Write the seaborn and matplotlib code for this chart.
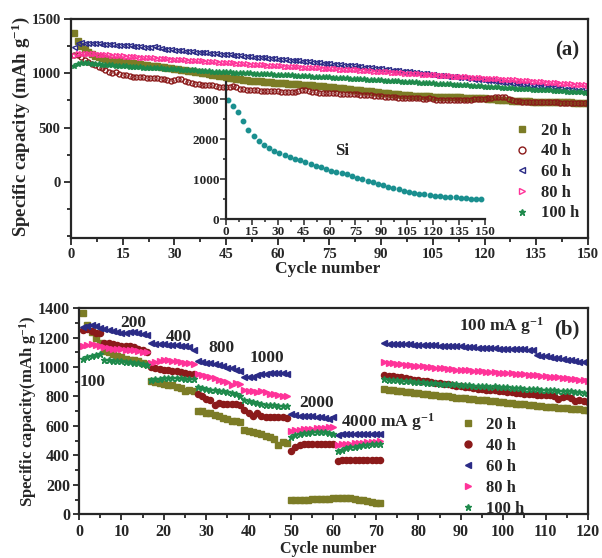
import numpy as np
import pandas as pd
import matplotlib
matplotlib.use('Agg')
import matplotlib.pyplot as plt
from matplotlib.lines import Line2D
from matplotlib.ticker import MultipleLocator
import seaborn as sns

# ------------------------ DATA: panel (a) cycling at 100 mA g-1 ------------------------
cycles_a = np.arange(1, 151)

cap_a_20h = [1373, 1300, 1255, 1222, 1197, 1178, 1163, 1151, 1142, 1134,
             1127, 1121, 1115, 1110, 1105, 1100, 1096, 1091, 1087, 1083,
             1079, 1075, 1071, 1067, 1063, 1059, 1055, 1051, 1047, 1043,
             1038, 1034, 1029, 1025, 1020, 1015, 1010, 1004, 999, 993,
             988, 982, 976, 971, 965, 960, 955, 950, 945, 940,
             936, 933, 930, 928, 925, 922, 920, 917, 914, 912,
             910, 907, 905, 903, 900, 898, 895, 893, 891, 888,
             885, 882, 879, 876, 873, 870, 867, 864, 861, 858,
             855, 851, 848, 844, 841, 837, 834, 830, 827, 823,
             820, 816, 813, 809, 806, 802, 799, 796, 793, 790,
             790, 789, 788, 787, 786, 785, 784, 783, 782, 781,
             780, 779, 778, 777, 776, 775, 774, 773, 772, 770,
             768, 765, 762, 759, 756, 753, 750, 748, 746, 744,
             743, 742, 741, 740, 739, 738, 737, 736, 735, 735,
             734, 733, 733, 732, 732, 731, 731, 730, 730, 730]

cap_a_40h = [1165, 1170, 1150, 1125, 1105, 1090, 1075, 1062, 1045, 1030,
             1015, 1005, 1010, 995, 985, 980, 975, 970, 967, 964,
             962, 960, 958, 956, 953, 950, 945, 938, 932, 935,
             945, 948, 930, 918, 910, 905, 900, 897, 895, 892,
             888, 882, 875, 872, 875, 878, 880, 870, 860, 852,
             848, 845, 843, 842, 841, 840, 840, 838, 836, 834,
             832, 830, 828, 826, 828, 835, 842, 845, 840, 830,
             825, 822, 820, 818, 817, 816, 815, 814, 813, 812,
             810, 808, 806, 804, 802, 800, 798, 795, 792, 789,
             786, 783, 780, 778, 776, 774, 772, 771, 770, 770,
             769, 768, 767, 770, 766, 758, 756, 755, 754, 754,
             755, 756, 757, 758, 758, 759, 760, 762, 764, 768,
             772, 777, 782, 785, 784, 780, 765, 750, 745, 741,
             740, 739, 738, 737, 736, 735, 735, 734, 733, 733,
             732, 731, 731, 730, 730, 729, 728, 727, 727, 726]

cap_a_60h = [1245, 1282, 1285, 1283, 1281, 1279, 1277, 1275, 1273, 1270,
             1268, 1266, 1264, 1262, 1260, 1258, 1256, 1253, 1250, 1247,
             1245, 1242, 1240, 1250, 1238, 1232, 1228, 1224, 1220, 1216,
             1213, 1210, 1207, 1205, 1202, 1199, 1197, 1195, 1192, 1190,
             1187, 1184, 1182, 1179, 1176, 1174, 1171, 1168, 1165, 1162,
             1160, 1157, 1154, 1152, 1149, 1146, 1143, 1141, 1138, 1135,
             1132, 1130, 1127, 1124, 1122, 1119, 1116, 1113, 1111, 1108,
             1105, 1102, 1099, 1096, 1093, 1090, 1087, 1084, 1081, 1078,
             1075, 1072, 1068, 1065, 1062, 1058, 1055, 1052, 1048, 1045,
             1041, 1038, 1034, 1031, 1027, 1024, 1020, 1017, 1013, 1010,
             1006, 1003, 999, 996, 992, 989, 985, 982, 978, 975,
             972, 968, 965, 962, 958, 955, 952, 948, 945, 942,
             938, 934, 931, 927, 923, 920, 916, 912, 909, 905,
             901, 898, 894, 891, 887, 884, 880, 877, 873, 870,
             867, 863, 860, 857, 854, 851, 848, 845, 841, 838]

cap_a_80h = [1160, 1175, 1182, 1180, 1178, 1176, 1174, 1172, 1170, 1168,
             1166, 1163, 1161, 1159, 1156, 1154, 1152, 1150, 1147, 1145,
             1143, 1141, 1139, 1137, 1135, 1133, 1131, 1129, 1127, 1125,
             1123, 1121, 1119, 1117, 1115, 1113, 1111, 1109, 1107, 1105,
             1103, 1101, 1099, 1097, 1095, 1093, 1091, 1089, 1087, 1085,
             1083, 1081, 1079, 1077, 1075, 1073, 1071, 1069, 1067, 1065,
             1063, 1061, 1060, 1058, 1056, 1055, 1053, 1051, 1050, 1048,
             1046, 1045, 1043, 1042, 1040, 1039, 1037, 1035, 1034, 1032,
             1030, 1028, 1026, 1024, 1022, 1020, 1018, 1016, 1014, 1012,
             1010, 1008, 1006, 1004, 1002, 1000, 998, 996, 994, 992,
             990, 988, 986, 984, 982, 980, 978, 976, 974, 972,
             970, 968, 966, 964, 962, 960, 958, 956, 954, 952,
             950, 948, 946, 944, 942, 940, 938, 936, 934, 932,
             930, 928, 926, 924, 921, 919, 917, 915, 912, 910,
             908, 905, 903, 900, 898, 895, 893, 890, 888, 885]

cap_a_100h = [1070, 1090, 1097, 1095, 1092, 1089, 1086, 1084, 1081, 1078,
              1076, 1074, 1071, 1069, 1067, 1064, 1062, 1060, 1057, 1055,
              1053, 1051, 1050, 1048, 1046, 1045, 1043, 1041, 1040, 1038,
              1036, 1034, 1032, 1030, 1028, 1026, 1024, 1022, 1020, 1018,
              1016, 1015, 1013, 1011, 1010, 1008, 1006, 1005, 1003, 1002,
              1000, 999, 997, 996, 994, 993, 991, 990, 988, 987,
              985, 983, 982, 980, 978, 977, 975, 973, 972, 970,
              968, 967, 965, 963, 962, 960, 958, 957, 955, 953,
              951, 950, 948, 946, 944, 942, 941, 939, 937, 935,
              933, 931, 929, 927, 926, 924, 922, 920, 918, 916,
              914, 912, 911, 909, 907, 905, 903, 902, 900, 898,
              896, 894, 892, 890, 888, 886, 884, 882, 880, 878,
              876, 874, 872, 870, 868, 866, 864, 862, 860, 858,
              856, 854, 852, 850, 849, 847, 845, 843, 842, 840,
              838, 836, 834, 832, 830, 828, 826, 824, 822, 820]

# inset: bare Si, every third cycle
si_cycles = np.arange(1, 150, 3)
si_cap = [2983, 2833, 2667, 2442, 2233, 2083, 1958, 1850, 1775, 1708,
          1650, 1600, 1550, 1500, 1467, 1425, 1383, 1333, 1292, 1250,
          1208, 1175, 1150, 1117, 1067, 1025, 1000, 958, 925, 883,
          850, 808, 775, 742, 708, 683, 650, 633, 617, 600,
          583, 567, 558, 550, 542, 533, 517, 508, 500, 492]

# ------------------------ DATA: panel (b) rate capability ------------------------
cycles_b = np.arange(1, 121)

cap_b_20h = [1365, 1285, 1235, 1200, 1160,
             1110, 1100, 1090, 1075, 1065, 1055, 1050, 1045, 1038, 1030, 1020,
             905, 895, 890, 885, 880, 875, 865, 855, 835, 845, 835,
             705, 700, 690, 685, 675, 665, 655, 645, 635, 635, 625,
             570, 565, 558, 550, 545, 535, 525, 515, 470, 490, 485,
             95, 96, 97, 98, 100, 102, 104, 105, 107, 108, 110,
             112, 115, 115, 110, 105, 100, 95, 90, 85, 80, 78,
             850, 846, 843, 840, 836, 833, 830, 826, 822, 818,
             815, 812, 809, 806, 803, 800, 796, 793, 790, 787,
             784, 781, 778, 776, 773, 770, 767, 764, 761, 758,
             755, 752, 749, 746, 744, 741, 738, 735, 732, 730,
             727, 725, 722, 720, 717, 715, 712, 710, 708]

cap_b_40h = [1253, 1260, 1243, 1232, 1228,
             1165, 1160, 1155, 1150, 1145, 1140, 1140, 1135, 1125, 1115, 1105,
             1000, 990, 985, 980, 978, 975, 970, 965, 960, 955, 950,
             820, 800, 785, 775, 740, 755, 752, 750, 750, 748, 745,
             710, 690, 670, 685, 665, 660, 660, 660, 662, 660, 655,
             432, 460, 470, 475, 478, 478, 478, 478, 478, 478, 478,
             360, 370, 372, 372, 372, 370, 370, 370, 370, 370, 370,
             945, 942, 938, 934, 930, 925, 920, 915, 910, 906,
             902, 898, 894, 890, 886, 882, 878, 874, 870, 866,
             862, 858, 854, 850, 847, 844, 841, 838, 835, 832,
             829, 826, 823, 820, 817, 815, 813, 811, 809, 807,
             805, 785, 795, 800, 790, 770, 775, 770, 765]

cap_b_60h = [1270, 1280, 1285, 1275, 1265,
             1260, 1250, 1245, 1240, 1230, 1232, 1235, 1235, 1228, 1222, 1215,
             1160, 1155, 1155, 1155, 1152, 1150, 1148, 1145, 1140, 1135, 1118,
             1040, 1035, 1030, 1025, 1020, 1015, 1005, 995, 990, 980, 975,
             935, 930, 935, 945, 950, 955, 958, 958, 958, 958, 955,
             680, 675, 670, 670, 668, 665, 662, 660, 655, 648, 660,
             540, 545, 548, 548, 548, 548, 548, 548, 548, 548, 548,
             1160, 1158, 1157, 1156, 1155, 1154, 1153, 1152, 1150, 1149,
             1148, 1147, 1146, 1145, 1144, 1143, 1142, 1141, 1140, 1138,
             1136, 1134, 1132, 1130, 1128, 1127, 1126, 1125, 1124, 1123,
             1122, 1121, 1120, 1119, 1118, 1117, 1080, 1075, 1072, 1068,
             1062, 1058, 1055, 1050, 1045, 1040, 1036, 1034, 1033]

cap_b_80h = [1145, 1150, 1155, 1150, 1140,
             1135, 1130, 1125, 1125, 1120, 1118, 1115, 1112, 1110, 1105, 1100,
             1030, 1035, 1040, 1045, 1045, 1042, 1040, 1035, 1030, 1025, 1020,
             950, 945, 940, 935, 925, 915, 905, 895, 880, 890, 888,
             845, 840, 835, 830, 835, 830, 820, 815, 810, 805, 800,
             565, 570, 575, 578, 580, 582, 585, 588, 588, 590, 592,
             470, 475, 478, 480, 482, 485, 488, 490, 490, 492, 495,
             1032, 1028, 1025, 1022, 1019, 1016, 1013, 1010, 1007, 1004,
             1001, 998, 996, 993, 991, 988, 986, 983, 981, 979,
             977, 974, 972, 970, 968, 966, 964, 962, 960, 958,
             956, 954, 952, 950, 948, 946, 944, 941, 938, 935,
             932, 929, 926, 923, 920, 917, 914, 910, 905]

cap_b_100h = [1055, 1070, 1075, 1080, 1085,
              1045, 1045, 1042, 1040, 1038, 1035, 1032, 1030, 1025, 1020, 1012,
              915, 920, 922, 925, 925, 925, 925, 925, 922, 920, 918,
              862, 855, 850, 845, 842, 840, 835, 830, 825, 815, 805,
              775, 770, 760, 755, 750, 745, 742, 740, 738, 738, 735,
              525, 540, 548, 552, 555, 558, 558, 558, 556, 552, 545,
              430, 440, 448, 455, 460, 465, 468, 472, 475, 478, 480,
              918, 915, 912, 910, 908, 905, 903, 900, 898, 896,
              894, 892, 890, 888, 886, 885, 884, 882, 880, 878,
              876, 874, 872, 870, 868, 866, 868, 866, 864, 862,
              860, 858, 856, 854, 852, 850, 848, 846, 845, 844,
              842, 840, 838, 836, 834, 832, 830, 826, 823]

series_labels = ['20 h', '40 h', '60 h', '80 h', '100 h']
series_colors = ['#7c7c26', '#8b1a1a', '#2b2b86', '#ff3399', '#1f8a4c']
markers_a = ['s', 'o', '<', '>', '*']
filled_a = [True, False, False, False, True]
markers_b = ['s', 'o', '<', '>', '*']

# current-density labels for panel (b): text, cycle, capacity
rate_texts = ['100', '200', '400', '800', '1000', '2000',
              '4000 mA g$^{-1}$', '100 mA g$^{-1}$']
rate_x = [3.3, 12.7, 23.6, 33.7, 44.3, 55.9, 72.8, 99.5]
rate_y = [895, 1301, 1204, 1127, 1061, 756, 624, 1275]

# ------------------------ STYLE ------------------------
sns.set_style('ticks')
plt.rcParams['font.family'] = ['Liberation Serif', 'DejaVu Serif']
plt.rcParams['font.weight'] = 'bold'
plt.rcParams['axes.labelweight'] = 'bold'
plt.rcParams['mathtext.fontset'] = 'custom'
plt.rcParams['mathtext.rm'] = 'Liberation Serif:bold'
plt.rcParams['mathtext.bf'] = 'Liberation Serif:bold'
plt.rcParams['mathtext.default'] = 'bf'
plt.rcParams['axes.linewidth'] = 1.6


def draw_series(ax, x, y, marker, color, filled, ms):
    df = pd.DataFrame({'cycle': x, 'cap': y})
    sns.lineplot(data=df, x='cycle', y='cap', ax=ax, color=color,
                 linestyle='', marker=marker, markersize=ms,
                 markerfacecolor=color if filled else 'none',
                 markeredgecolor=color, markeredgewidth=1.0,
                 estimator=None, sort=False)


def style_axes(ax, xmaj, xmin, ymaj, ymin, size, width=1.3, pad=3.5, length=5):
    ax.xaxis.set_major_locator(MultipleLocator(xmaj))
    ax.xaxis.set_minor_locator(MultipleLocator(xmin))
    ax.yaxis.set_major_locator(MultipleLocator(ymaj))
    ax.yaxis.set_minor_locator(MultipleLocator(ymin))
    ax.tick_params(which='both', direction='out', top=False, right=False,
                   width=width, labelsize=size, pad=pad)
    ax.tick_params(which='major', length=length)
    ax.tick_params(which='minor', length=3)
    for lab in ax.get_xticklabels() + ax.get_yticklabels():
        lab.set_fontweight('bold')


fig = plt.figure(figsize=(6.02, 5.58), dpi=100)

# ------------------------ PANEL (a) ------------------------
ax_a = fig.add_axes([0.1179, 0.5735, 0.8588, 0.3925])
caps_a = [cap_a_20h, cap_a_40h, cap_a_60h, cap_a_80h, cap_a_100h]
sizes_a = [4.5, 3.6, 3.6, 3.6, 4.2]
for cap, mk, col, fl, ms in zip(caps_a, markers_a, series_colors, filled_a, sizes_a):
    draw_series(ax_a, cycles_a, cap, mk, col, fl, ms)
ax_a.set_xlim(0, 150)
ax_a.set_ylim(-515, 1500)
style_axes(ax_a, 15, 7.5, 500, 250, 10.5, pad=2.5)
ax_a.set_yticks([0, 500, 1000, 1500])
ax_a.set_xlabel('Cycle number', fontsize=12.5, fontweight='bold')
ax_a.set_ylabel('Specific capacity (mAh g$^{-1}$)', fontsize=13.5, fontweight='bold')
ax_a.xaxis.set_label_coords(0.497, -0.105)
ax_a.yaxis.set_label_coords(-0.076, 0.51)
ax_a.text(0.959, 0.858, '(a)', transform=ax_a.transAxes, ha='center', va='center',
          fontsize=15, fontweight='bold')

handles_a = [Line2D([], [], linestyle='', marker=mk, color=col, markersize=5,
                    markerfacecolor=col if fl else 'none', markeredgecolor=col,
                    markeredgewidth=1.0)
             for mk, col, fl in zip(markers_a, series_colors, filled_a)]
ax_a.legend(handles_a, series_labels, loc='upper left', bbox_to_anchor=(0.84, 0.795),
            bbox_transform=fig.transFigure, frameon=False, fontsize=12,
            handlelength=1.0, handletextpad=0.6, labelspacing=0.28, borderpad=0)

# inset with bare Si
ax_in = fig.add_axes([0.3754, 0.6075, 0.430, 0.2455])
ax_in.patch.set_alpha(0)
sns.despine(ax=ax_in)
draw_series(ax_in, si_cycles, si_cap, 'o', '#1a8f8f', True, 3.2)
ax_in.set_xlim(0, 150)
ax_in.set_ylim(0, 3425)
style_axes(ax_in, 15, 7.5, 1000, 500, 9.5, width=1.1)
ax_in.tick_params(which='major', length=4, pad=1)
ax_in.tick_params(which='minor', length=2.5)
ax_in.set_xlabel('')
ax_in.set_ylabel('')
ax_in.text(67, 1708, 'Si', ha='center', va='center', fontsize=12, fontweight='bold')

# ------------------------ PANEL (b) ------------------------
ax_b = fig.add_axes([0.1312, 0.078, 0.8455, 0.370])
caps_b = [cap_b_20h, cap_b_40h, cap_b_60h, cap_b_80h, cap_b_100h]
sizes_b = [4.4, 4.4, 4.4, 4.4, 4.6]
for cap, mk, col, ms in zip(caps_b, markers_b, series_colors, sizes_b):
    draw_series(ax_b, cycles_b, cap, mk, col, True, ms)
ax_b.set_xlim(0, 120)
ax_b.set_ylim(0, 1400)
style_axes(ax_b, 10, 5, 200, 100, 11.5, pad=2, length=4.5)
ax_b.set_xlabel('Cycle number', fontsize=11.5, fontweight='bold')
ax_b.set_ylabel('Specific capacity(mAh g$^{-1}$)', fontsize=12, fontweight='bold')
ax_b.xaxis.set_label_coords(0.49, -0.13)
ax_b.yaxis.set_label_coords(-0.078, 0.50)
ax_b.text(0.959, 0.894, '(b)', transform=ax_b.transAxes, ha='center', va='center',
          fontsize=15, fontweight='bold')
for txt, xv, yv in zip(rate_texts, rate_x, rate_y):
    ax_b.text(xv, yv, txt, ha='center', va='center', fontsize=12.5, fontweight='bold')

handles_b = [Line2D([], [], linestyle='', marker=mk, color=col, markersize=5)
             for mk, col in zip(markers_b, series_colors)]
ax_b.legend(handles_b, series_labels, loc='upper left', bbox_to_anchor=(0.75, 0.268),
            bbox_transform=fig.transFigure, frameon=False, fontsize=12,
            handlelength=1.0, handletextpad=0.6, labelspacing=0.3, borderpad=0)

fig.savefig('out.png', dpi=100)
